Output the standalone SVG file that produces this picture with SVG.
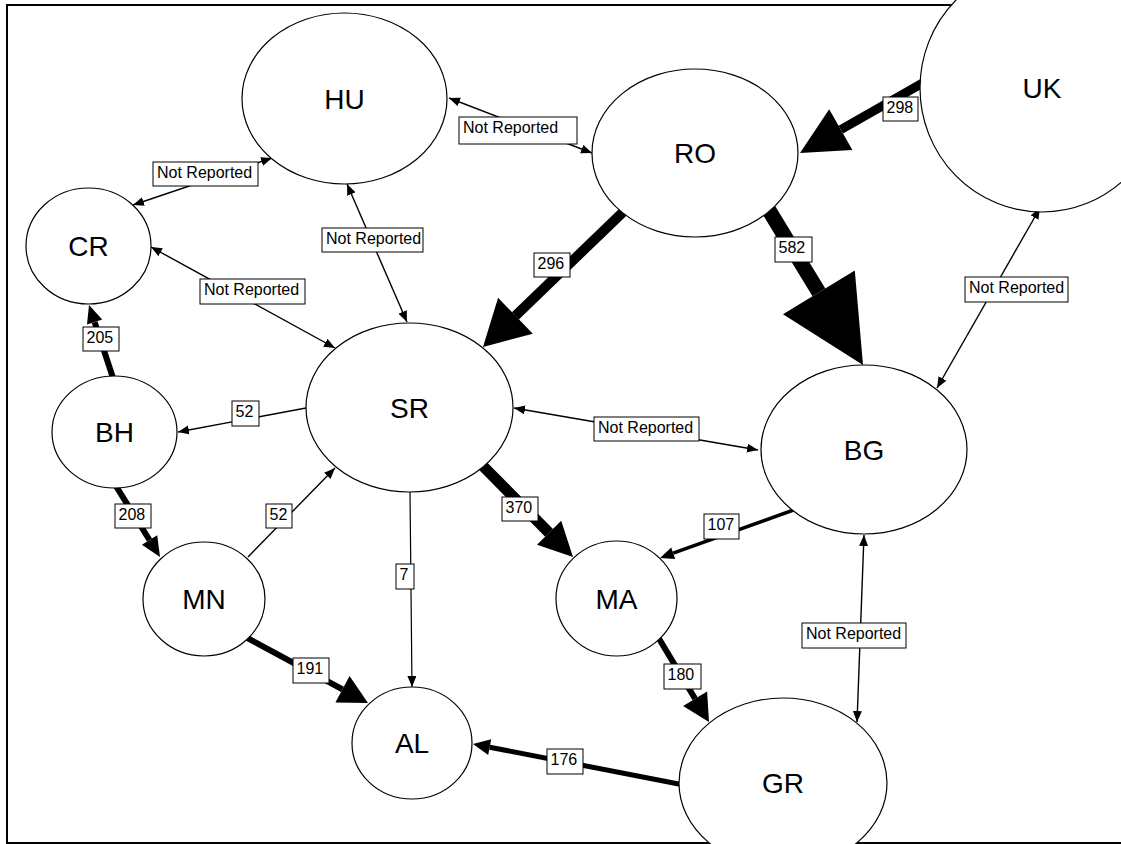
<svg xmlns="http://www.w3.org/2000/svg" width="1121" height="844" viewBox="0 0 1121 844">
<style>
.node{fill:#fff;stroke:#000;stroke-width:1.2}
.nt{font-family:"Liberation Sans",Arial,sans-serif;font-size:28px;text-anchor:middle;fill:#000}
.thin{stroke:#000;stroke-width:1.4;fill:none}
.bi{marker-start:url(#ah);marker-end:url(#ah)}
.one{marker-end:url(#ah)}
.thick{stroke:#000;fill:none;stroke-linecap:butt}
.head{fill:#000;stroke:none}
.lb{fill:#fff;stroke:#000;stroke-width:1}
.lt{font-family:"Liberation Sans",Arial,sans-serif;font-size:16px;fill:#000}
</style>
<defs>
<marker id="ah" markerUnits="userSpaceOnUse" markerWidth="12" markerHeight="10" refX="11" refY="4.5" orient="auto-start-reverse">
<path d="M0,0 L11,4.5 L0,9 z" fill="#000"/>
</marker>
</defs>
<rect x="0" y="0" width="1121" height="844" fill="#fff"/>
<rect x="7" y="5" width="1200" height="838" fill="none" stroke="#000" stroke-width="2"/>
<g id="connectors">
<line class="thin bi" x1="133" y1="205" x2="272" y2="158"/>
<line class="thin bi" x1="449" y1="98" x2="592" y2="153"/>
<line class="thin bi" x1="347" y1="184" x2="407" y2="322"/>
<line class="thin bi" x1="151" y1="247" x2="335" y2="348"/>
<line class="thin bi" x1="1040" y1="208" x2="937" y2="388"/>
<line class="thin bi" x1="514" y1="408" x2="758" y2="450"/>
<line class="thin bi" x1="864" y1="535" x2="857" y2="722"/>
<line class="thin one" x1="306" y1="408" x2="178" y2="432"/>
<line class="thin one" x1="248" y1="557" x2="335" y2="468"/>
<line class="thin one" x1="410" y1="492" x2="412" y2="687" style="stroke-width:1.2"/>
<line class="thick" x1="629.2" y1="206.1" x2="515.4" y2="315.8" stroke-width="10"/>
<polygon class="head" points="483,347 532.8,333.8 498.1,297.8"/>
<line class="thick" x1="929.7" y1="79" x2="840.8" y2="129.7" stroke-width="9"/>
<polygon class="head" points="800,153 852.4,150.1 829.2,109.3"/>
<line class="thick" x1="764.8" y1="203.5" x2="818.9" y2="292.4" stroke-width="15"/>
<polygon class="head" points="863,365 854.8,270.6 783,314.2"/>
<line class="thick" x1="476" y1="459" x2="549.1" y2="532.8" stroke-width="11"/>
<polygon class="head" points="573,557 561.2,520.8 537,544.8"/>
<line class="thick" x1="116" y1="387" x2="94.6" y2="322.1" stroke-width="6"/>
<polygon class="head" points="89,305 102.2,319.6 87,324.6"/>
<line class="thick" x1="111" y1="478" x2="149.5" y2="540" stroke-width="6"/>
<polygon class="head" points="160,557 157.2,535.3 141.9,544.7"/>
<line class="thick" x1="238" y1="633" x2="342.5" y2="689.3" stroke-width="6"/>
<polygon class="head" points="368,703 349.6,676.1 335.4,702.5"/>
<line class="thick" x1="655" y1="632" x2="695.1" y2="698.8" stroke-width="6"/>
<polygon class="head" points="709,722 707.1,691.6 683.1,706"/>
<line class="thick" x1="689" y1="786" x2="489.7" y2="747.2" stroke-width="5"/>
<polygon class="head" points="473,744 491.2,739.3 488.2,755.1"/>
<line class="thick" x1="799" y1="508" x2="673.2" y2="553.2" stroke-width="3.5"/>
<polygon class="head" points="660,558 675.2,558.9 671.2,547.6"/>
<g id="labels">
<rect class="lb" x="153" y="162" width="105" height="24"/><text class="lt" x="157" y="178">Not Reported</text>
<rect class="lb" x="459" y="117" width="118" height="27"/><text class="lt" x="463" y="133">Not Reported</text>
<rect class="lb" x="322" y="228" width="101" height="24"/><text class="lt" x="326" y="244">Not Reported</text>
<rect class="lb" x="200" y="279" width="105" height="25"/><text class="lt" x="204" y="295">Not Reported</text>
<rect class="lb" x="594" y="417" width="105" height="24"/><text class="lt" x="598" y="433">Not Reported</text>
<rect class="lb" x="965" y="277" width="103" height="25"/><text class="lt" x="969" y="293">Not Reported</text>
<rect class="lb" x="802" y="623" width="104" height="25"/><text class="lt" x="806" y="639">Not Reported</text>
<rect class="lb" x="883" y="97" width="35" height="24"/><text class="lt" x="886.5" y="113">298</text>
<rect class="lb" x="534" y="253" width="36" height="24"/><text class="lt" x="537.5" y="269">296</text>
<rect class="lb" x="775" y="237" width="37" height="25"/><text class="lt" x="778.5" y="253">582</text>
<rect class="lb" x="83" y="327" width="36" height="24"/><text class="lt" x="86.5" y="343">205</text>
<rect class="lb" x="232" y="401" width="27" height="25"/><text class="lt" x="235.5" y="417">52</text>
<rect class="lb" x="115" y="504" width="36" height="24"/><text class="lt" x="118.5" y="520">208</text>
<rect class="lb" x="266" y="504" width="26" height="24"/><text class="lt" x="269.5" y="520">52</text>
<rect class="lb" x="396" y="564" width="18" height="25"/><text class="lt" x="399.5" y="580">7</text>
<rect class="lb" x="502" y="497" width="36" height="24"/><text class="lt" x="505.5" y="513">370</text>
<rect class="lb" x="704" y="514" width="35" height="25"/><text class="lt" x="707.5" y="530">107</text>
<rect class="lb" x="293" y="658" width="36" height="25"/><text class="lt" x="296.5" y="674">191</text>
<rect class="lb" x="664" y="664" width="37" height="25"/><text class="lt" x="667.5" y="680">180</text>
<rect class="lb" x="547" y="749" width="36" height="25"/><text class="lt" x="550.5" y="765">176</text>
</g>
</g>
<g id="HU"><ellipse class="node" cx="344.5" cy="98.5" rx="102.5" ry="85.5"/><text class="nt" x="344.5" y="108.5">HU</text></g>
<g id="RO"><ellipse class="node" cx="695" cy="153" rx="103" ry="84"/><text class="nt" x="695" y="163">RO</text></g>
<g id="UK"><ellipse class="node" cx="1042" cy="88" rx="122" ry="124"/><text class="nt" x="1042" y="98">UK</text></g>
<g id="CR"><ellipse class="node" cx="88.5" cy="246" rx="62.5" ry="58"/><text class="nt" x="88.5" y="256">CR</text></g>
<g id="BH"><ellipse class="node" cx="114.5" cy="432" rx="62.5" ry="56"/><text class="nt" x="114.5" y="442">BH</text></g>
<g id="SR"><ellipse class="node" cx="409.5" cy="407.5" rx="103.5" ry="84.5"/><text class="nt" x="409.5" y="417.5">SR</text></g>
<g id="BG"><ellipse class="node" cx="864" cy="449.5" rx="103" ry="84.5"/><text class="nt" x="864" y="459.5">BG</text></g>
<g id="MN"><ellipse class="node" cx="204" cy="599" rx="61" ry="57"/><text class="nt" x="204" y="609">MN</text></g>
<g id="MA"><ellipse class="node" cx="616.5" cy="598.5" rx="60.5" ry="57.5"/><text class="nt" x="616.5" y="608.5">MA</text></g>
<g id="AL"><ellipse class="node" cx="412" cy="743" rx="60" ry="56"/><text class="nt" x="412" y="753">AL</text></g>
<g id="GR"><ellipse class="node" cx="783" cy="783" rx="104" ry="85"/><text class="nt" x="783" y="793">GR</text></g>
</svg>
